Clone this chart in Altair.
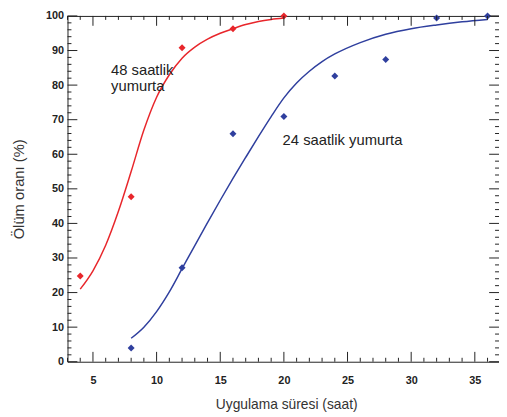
import altair as alt
import pandas as pd

# ---- data ----
red_pts_x = [4, 8, 12, 16, 20]
red_pts_y = [24.8, 47.7, 90.8, 96.3, 100]
blue_pts_x = [8, 12, 16, 20, 24, 28, 32, 36]
blue_pts_y = [4.0, 27.2, 65.9, 70.9, 82.6, 87.4, 99.4, 100]

red_fit_x = [4, 5, 6, 7, 8, 9, 10, 11, 12, 13, 14, 15, 16, 17, 18, 19, 20]
red_fit_y = [21.0, 26.3, 33.7, 43.5, 55.0, 67.0, 76.5, 83.0, 87.8, 91.0, 93.3, 95.0,
             96.3, 97.5, 98.4, 99.0, 99.4]
blue_fit_x = [8, 9, 10, 11, 12, 13, 14, 15, 16, 17, 18, 19, 20, 21, 22, 23, 24,
              26, 28, 30, 32, 34, 36]
blue_fit_y = [6.8, 10.0, 14.5, 20.2, 26.9, 33.6, 40.2, 46.7, 53.0, 59.1, 65.1, 70.9,
              76.3, 80.6, 84.0, 86.8, 89.0, 92.3, 94.7, 96.3, 97.4, 98.3, 99.0]

label_red = ["48 saatlik\nyumurta"]
label_red_x = [6.42]
label_red_y = [82.8]
label_blue = ["24 saatlik yumurta"]
label_blue_x = [19.9]
label_blue_y = [62.6]

x_major = [5, 10, 15, 20, 25, 30, 35]
x_minor = [3, 4, 6, 7, 8, 9, 11, 12, 13, 14, 16, 17, 18, 19, 21, 22, 23, 24,
           26, 27, 28, 29, 31, 32, 33, 34, 36]
y_major = [0, 10, 20, 30, 40, 50, 60, 70, 80, 90, 100]
y_minor = [2, 4, 6, 8, 12, 14, 16, 18, 22, 24, 26, 28, 32, 34, 36, 38, 42, 44, 46, 48,
           52, 54, 56, 58, 62, 64, 66, 68, 72, 74, 76, 78, 82, 84, 86, 88, 92, 94, 96, 98]

RED = "#e8262b"
BLUE = "#2f3f9e"
AXC = "#222222"
FONT = "Liberation Sans"
W, H = 438, 351
MAJ, MIN = 10, 4

xs = alt.Scale(domain=[3, 36.9], nice=False, zero=False)
ys = alt.Scale(domain=[0, 100], nice=False, zero=False)

x_bottom_main = alt.Axis(orient="bottom", values=x_major, domain=True, domainColor=AXC,
                         domainWidth=1, ticks=False, tickSize=0, grid=False,
                         labelFont=FONT, labelFontSize=11, labelFontWeight="bold",
                         labelColor=AXC, labelPadding=13,
                         title="Uygulama süresi (saat)", titleFont=FONT,
                         titleFontSize=14, titleFontWeight="normal", titleColor="#333333",
                         titleX=222, titleY=47, titleBaseline="alphabetic",
                         titleAlign="center")
y_left_main = alt.Axis(orient="left", values=y_major, domain=True, domainColor=AXC,
                       domainWidth=1, ticks=False, tickSize=0, grid=False,
                       labelFont=FONT, labelFontSize=11, labelFontWeight="bold",
                       labelColor=AXC, labelPadding=4,
                       title="Ölüm oranı (%)", titleFont=FONT, titleFontSize=15,
                       titleFontWeight="normal", titleColor="#333333",
                       titleX=-50, titleY=175.5, titleAngle=-90,
                       titleBaseline="middle", titleAlign="center")
x_top_main = alt.Axis(orient="top", domain=True, domainColor=AXC, domainWidth=1,
                      ticks=False, labels=False, grid=False, title=None)

red_fit = pd.DataFrame({"x": red_fit_x, "y": red_fit_y})
blue_fit = pd.DataFrame({"x": blue_fit_x, "y": blue_fit_y})
red_pts = pd.DataFrame({"x": red_pts_x, "y": red_pts_y})
blue_pts = pd.DataFrame({"x": blue_pts_x, "y": blue_pts_y})
red_lab = pd.DataFrame({"x": label_red_x, "y": label_red_y, "t": label_red})
blue_lab = pd.DataFrame({"x": label_blue_x, "y": label_blue_y, "t": label_blue})

XQ = lambda ax=None: alt.X("x:Q", scale=xs, axis=ax)
YQ = lambda ax=None: alt.Y("y:Q", scale=ys, axis=ax)

l1 = alt.Chart(red_fit).mark_line(color=RED, strokeWidth=1.5, interpolate="monotone").encode(
    x=XQ(x_bottom_main), y=YQ(y_left_main))
l2 = alt.Chart(blue_fit).mark_line(color=BLUE, strokeWidth=1.5, interpolate="monotone").encode(
    x=XQ(), y=YQ())
l3 = alt.Chart(red_pts).mark_point(shape="diamond", filled=True, size=50, color=RED, opacity=1).encode(
    x=XQ(), y=YQ())
l4 = alt.Chart(blue_pts).mark_point(shape="diamond", filled=True, size=50, color=BLUE, opacity=1).encode(
    x=XQ(x_top_main), y=YQ())
l5 = alt.Chart(red_lab).mark_text(align="left", baseline="alphabetic", font=FONT, fontSize=15,
                                  color="#222222", lineBreak="\n", lineHeight=16).encode(
    x=XQ(), y=YQ(), text="t:N")
l6 = alt.Chart(blue_lab).mark_text(align="left", baseline="alphabetic", font=FONT, fontSize=15,
                                   color="#222222").encode(
    x=XQ(), y=YQ(), text="t:N")


# inward-pointing tick marks on all four sides
def xticks(values, length):
    df = pd.DataFrame({"x": values})
    r = alt.Chart(df).mark_rule(color=AXC, strokeWidth=1)
    return [
        r.encode(x=XQ(), y=alt.value(H), y2=alt.value(H - length)),
        r.encode(x=XQ(), y=alt.value(0), y2=alt.value(length)),
    ]


def yticks(values, length):
    df = pd.DataFrame({"y": values})
    r = alt.Chart(df).mark_rule(color=AXC, strokeWidth=1)
    return [
        r.encode(y=YQ(), x=alt.value(0), x2=alt.value(length)),
        r.encode(y=YQ(), x=alt.value(W), x2=alt.value(W - length)),
    ]


tick_layers = xticks(x_major, MAJ) + xticks(x_minor, MIN) + yticks(y_major, MAJ) + yticks(y_minor, MIN)

chart = alt.layer(l1, l4, l2, l3, l5, l6, *tick_layers).resolve_axis(
    x="independent", y="independent"
).properties(
    width=W, height=H,
    autosize=alt.AutoSizeParams(type="none"),
    padding={"left": 60.4, "top": 5, "right": 0, "bottom": 50},
    background="white",
).configure_view(stroke=None)

chart.save("out.html", embed_options={"renderer": "svg", "actions": False})
